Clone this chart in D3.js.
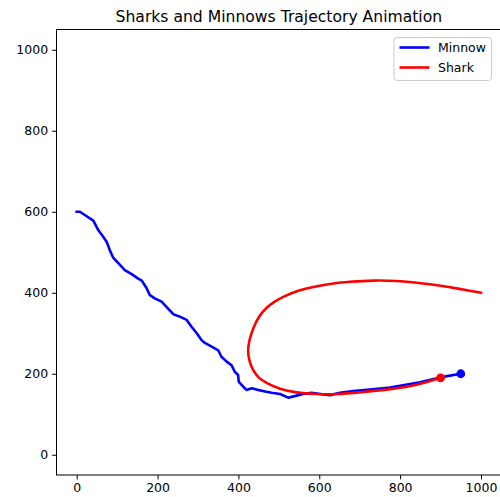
<!DOCTYPE html>
<html>
<head>
<meta charset="utf-8">
<script src="https://cdn.jsdelivr.net/npm/d3@7"></script>
<style>
  html, body { margin: 0; padding: 0; background: #fff; }
  svg { display: block; font-family: "DejaVu Sans", sans-serif; }
</style>
</head>
<body>
<svg id="chart" width="500" height="497"></svg>
<script>
// Minnow path (x, y) in arena units
const minnowX = [0, 8, 20, 41, 53, 62, 74, 82, 90, 103, 119, 136, 152, 161, 173, 181, 193, 210, 226, 239, 255, 272, 284, 297, 309, 317, 334, 350, 358, 371, 383, 391, 399, 401, 412, 420, 433, 449, 466, 482, 503, 523, 544, 560, 581, 602, 626, 651, 684, 725, 775, 849, 899, 950];
const minnowY = [600, 600, 592, 578, 555, 543, 526, 505, 487, 473, 456, 446, 435, 430, 411, 394, 386, 378, 361, 347, 341, 333, 316, 300, 283, 276, 267, 258, 242, 230, 221, 205, 197, 180, 168, 160, 164, 160, 156, 153, 150, 141, 146, 150, 153, 150, 147, 153, 157, 161, 166, 179, 191, 200];

// Shark path (x, y) in arena units
const sharkX = [1000, 956, 874, 791, 734, 676, 635, 594, 552, 511, 488, 470, 452, 438, 428, 424, 428, 436, 450, 472, 503, 544, 594, 643, 709, 775, 841, 900];
const sharkY = [400, 408, 421, 429, 430, 427, 423, 416, 406, 390, 377, 363, 342, 315, 285, 256, 230, 210, 191, 176, 163, 154, 150, 150, 155, 162, 173, 190];

const xTicks = [0, 200, 400, 600, 800, 1000];
const yTicks = [0, 200, 400, 600, 800, 1000];
const seriesNames = ["Minnow", "Shark"];
const seriesColors = ["#0000ff", "#ff0000"];

const minnow = minnowX.map((x, i) => [x, minnowY[i]]);
const shark = sharkX.map((x, i) => [x, sharkY[i]]);

const svg = d3.select("#chart");
const L = 56.5, R = 501.2, T = 29.5, B = 475;

const x = d3.scaleLinear().domain([-50, 1050]).range([L, R]);
const y = d3.scaleLinear().domain([-50, 1050]).range([B, T]);

svg.append("defs").append("clipPath").attr("id", "plotclip")
  .append("rect").attr("x", L).attr("y", T).attr("width", R - L).attr("height", B - T);

// Axes
const xAxis = svg.append("g").attr("transform", `translate(0,${B})`)
  .call(d3.axisBottom(x).tickValues(xTicks).tickSize(4.4).tickPadding(4).tickFormat(d3.format("d")));
const yAxis = svg.append("g").attr("transform", `translate(${L},0)`)
  .call(d3.axisLeft(y).tickValues(yTicks).tickSize(4.4).tickPadding(4).tickFormat(d3.format("d")));
[xAxis, yAxis].forEach(g => {
  g.select(".domain").remove();
  g.selectAll(".tick line").attr("stroke", "#000").attr("stroke-width", 1);
  g.selectAll(".tick text").attr("fill", "#000").style("font-size", "12.5px")
    .style("font-family", "'DejaVu Sans', sans-serif");
});

// Trajectories
const plot = svg.append("g").attr("clip-path", "url(#plotclip)");
plot.append("path").datum(minnow)
  .attr("d", d3.line().x(d => x(d[0])).y(d => y(d[1])).curve(d3.curveLinear))
  .attr("fill", "none").attr("stroke", seriesColors[0]).attr("stroke-width", 2.6)
  .attr("stroke-linejoin", "round").attr("stroke-linecap", "square");
plot.append("path").datum(shark)
  .attr("d", d3.line().x(d => x(d[0])).y(d => y(d[1])).curve(d3.curveCatmullRom.alpha(0.5)))
  .attr("fill", "none").attr("stroke", seriesColors[1]).attr("stroke-width", 2.6)
  .attr("stroke-linejoin", "round").attr("stroke-linecap", "square");

// Current positions
const heads = [minnow[minnow.length - 1], shark[shark.length - 1]];
plot.selectAll("circle.head").data(heads).join("circle")
  .attr("class", "head")
  .attr("cx", d => x(d[0])).attr("cy", d => y(d[1])).attr("r", 4.4)
  .attr("fill", (d, i) => seriesColors[i]);

// Frame
svg.append("rect").attr("x", L).attr("y", T).attr("width", R - L).attr("height", B - T)
  .attr("fill", "none").attr("stroke", "#000").attr("stroke-width", 1);

// Title
svg.append("text").attr("x", (L + R) / 2).attr("y", 22).attr("text-anchor", "middle")
  .style("font-size", "15.6px").attr("fill", "#000")
  .text("Sharks and Minnows Trajectory Animation");

// Legend
const lg = svg.append("g");
lg.append("rect").attr("x", 394).attr("y", 37.5).attr("width", 97.5).attr("height", 43).attr("rx", 3)
  .attr("fill", "#fff").attr("fill-opacity", 0.8).attr("stroke", "#cccccc").attr("stroke-width", 1);
seriesNames.forEach((name, i) => {
  const yy = 47.5 + i * 20;
  lg.append("line").attr("x1", 399.5).attr("x2", 429.5).attr("y1", yy).attr("y2", yy)
    .attr("stroke", seriesColors[i]).attr("stroke-width", 2.6);
  lg.append("text").attr("x", 438).attr("y", yy + 4.5).style("font-size", "12.5px")
    .attr("fill", "#000").text(name);
});
</script>
</body>
</html>
